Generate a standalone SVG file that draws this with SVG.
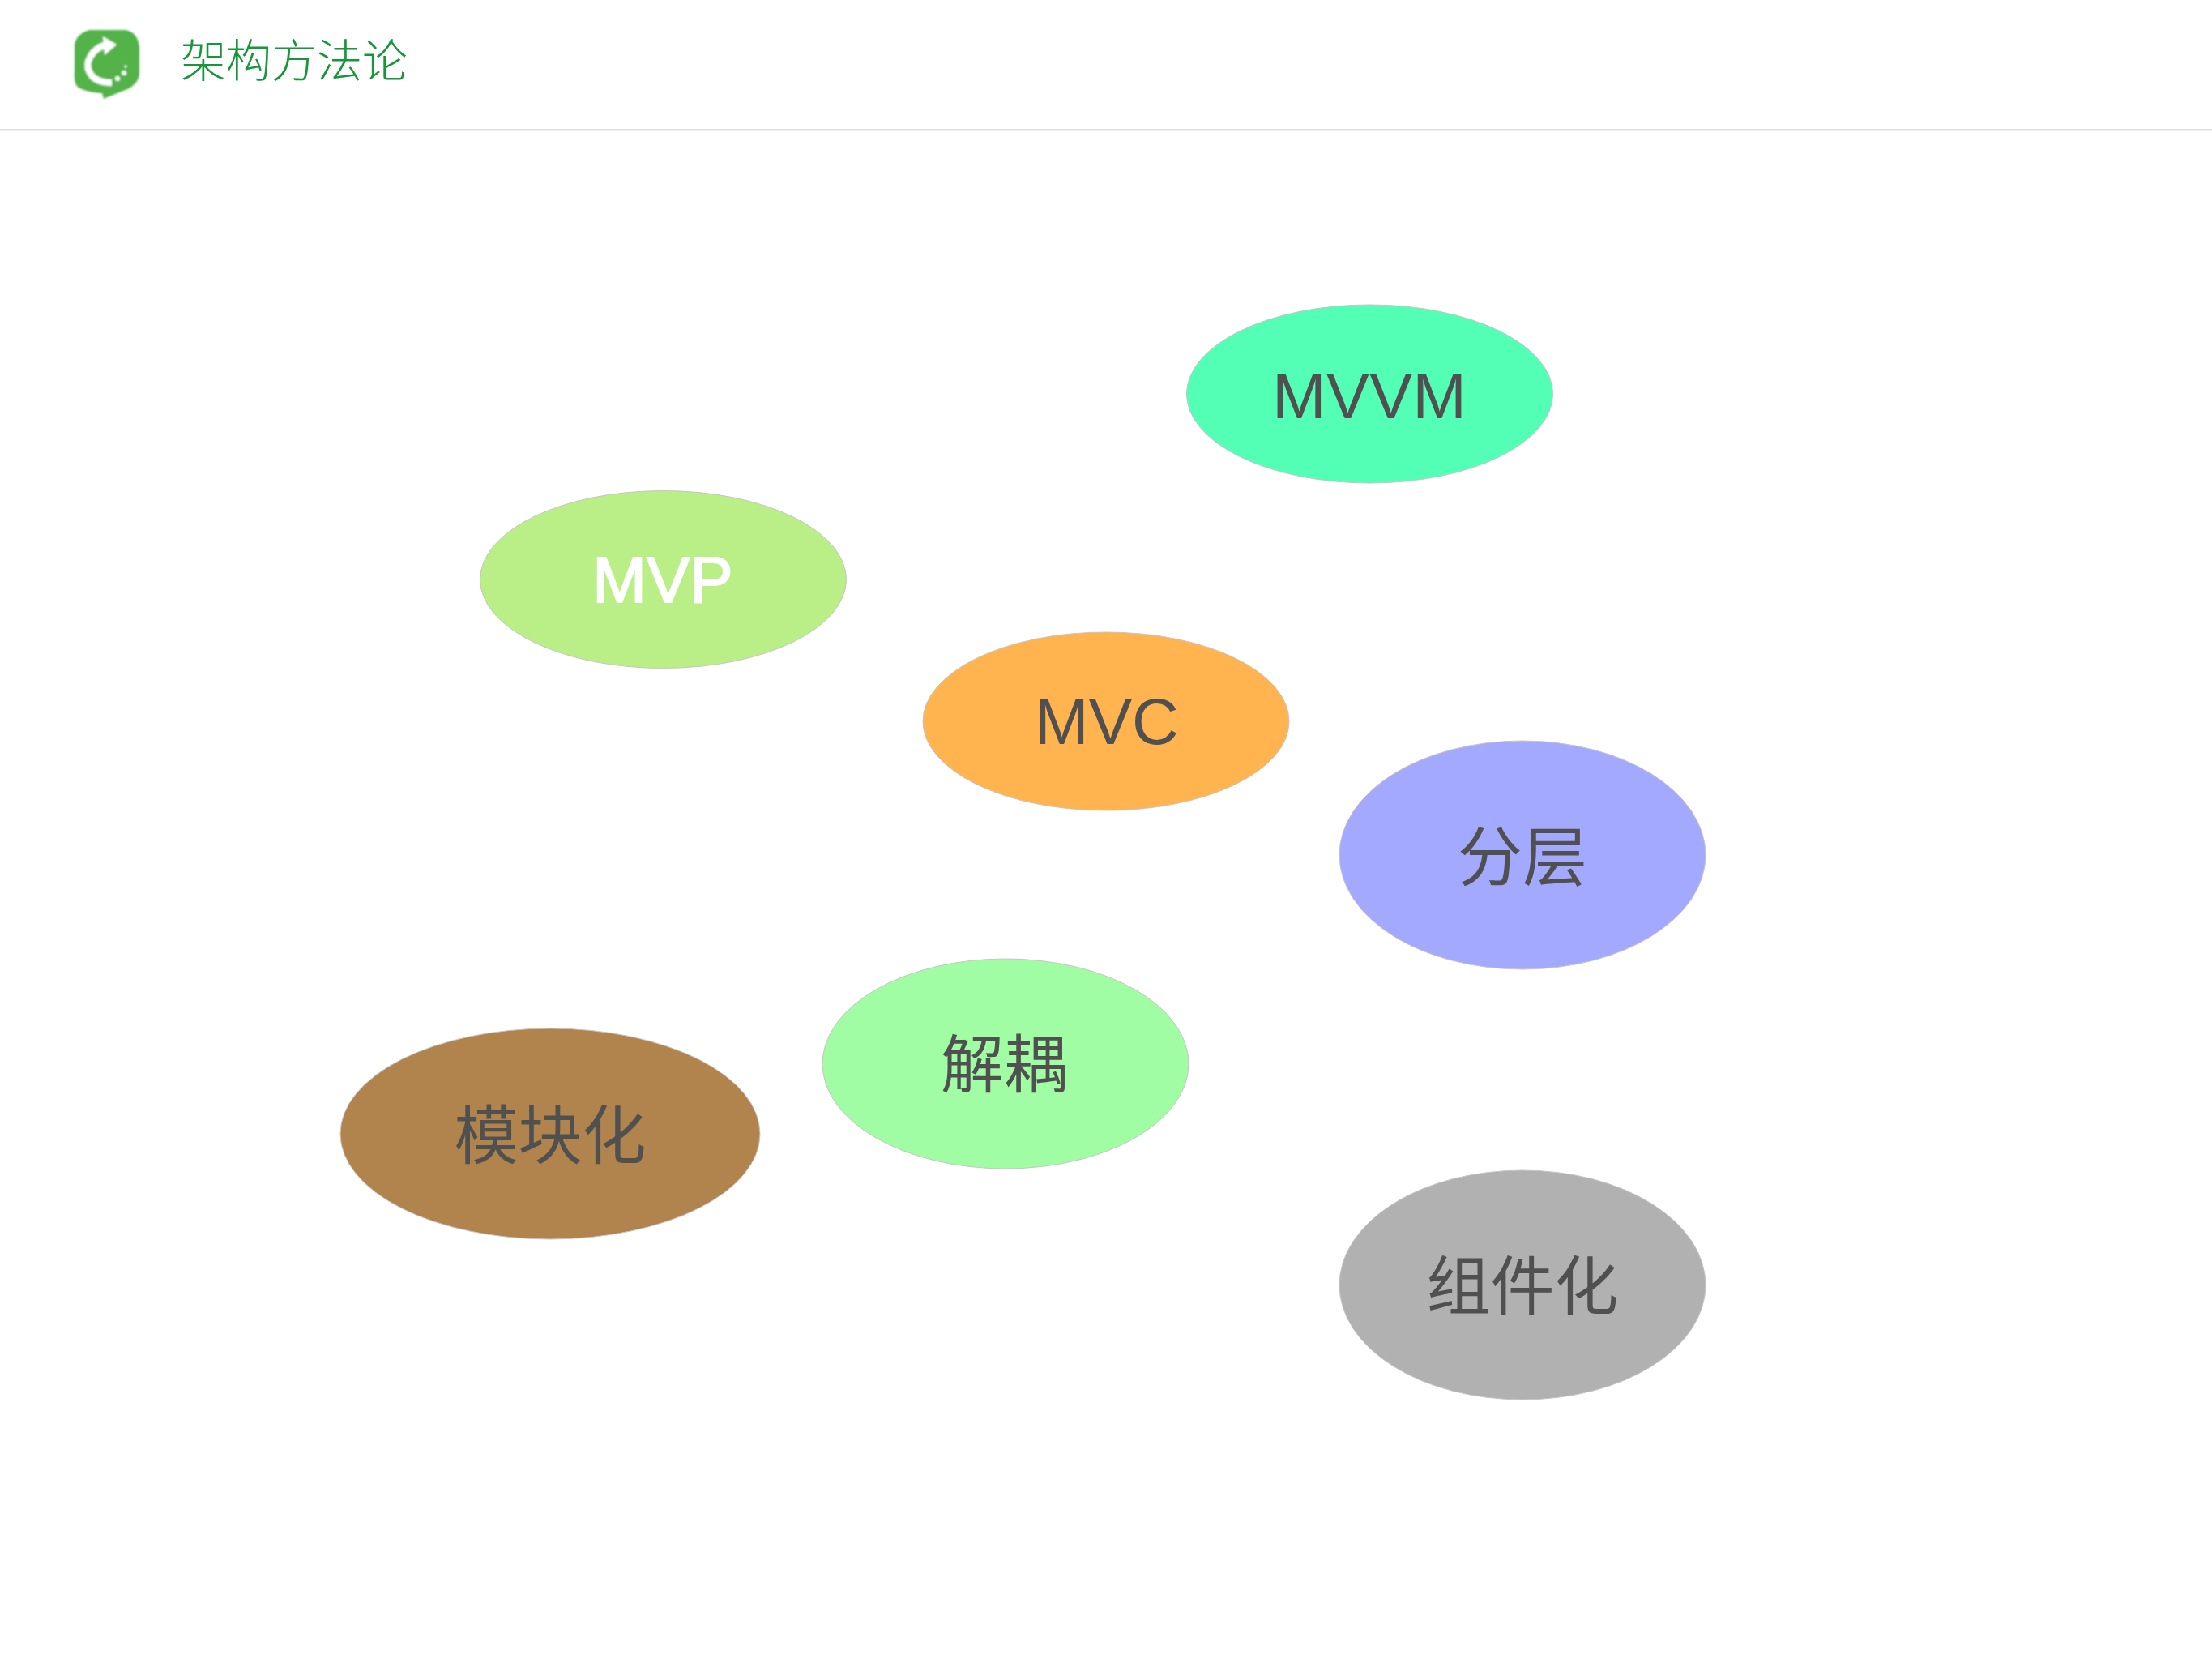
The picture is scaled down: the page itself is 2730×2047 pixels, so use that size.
<svg xmlns="http://www.w3.org/2000/svg" width="2730" height="2047" viewBox="0 0 2730 2047">
<style>
text{font-family:"Liberation Sans","Noto Sans CJK SC",sans-serif;text-anchor:middle}
.n ellipse{stroke:#c9c4c4;stroke-width:1}
.n text{font-size:80px;fill:#505050}
.t{font-family:"Noto Sans CJK SC",sans-serif;font-size:56px;font-weight:300;fill:#17963a;text-anchor:start}
</style>
<defs><filter id="soft" x="-10%" y="-10%" width="120%" height="120%"><feGaussianBlur stdDeviation="0.9"/></filter></defs>
<rect width="2730" height="2047" fill="#fff"/>
<g id="header">
<rect x="0" y="159" width="2730" height="2.5" fill="#dedede"/>
<g id="logo" filter="url(#soft)">
<path d="M110 37H155Q170 40 172 58V92Q170 106 152 112L128 122L126 115Q100 113 94 105Q91 100 92 85V55Q94 42 110 37Z" fill="#52b34a"/>
<path d="M132 55C112 60 105 78 110 88C114 98 124 102 138 102" fill="none" stroke="#fff" stroke-width="8"/>
<path d="M127 45L144 55L129 68Z" fill="#fff"/>
<circle cx="153" cy="90" r="3" fill="#fff"/><circle cx="145" cy="97" r="3" fill="#fff"/><circle cx="155" cy="82" r="1.5" fill="#fff"/>
</g>
<text class="t" x="223" y="95">架构方法论</text>
</g>
<g id="connectors"></g>
<g id="mvvm" class="n"><ellipse cx="1690.5" cy="486" rx="226" ry="110" fill="#52ffb5"/><text x="1690" y="516">MVVM</text></g>
<g id="mvp" class="n"><ellipse cx="818.5" cy="715" rx="226" ry="109.5" fill="#baee86"/><text x="818" y="743" style="fill:#fff;stroke:#fff;stroke-width:2">MVP</text></g>
<g id="mvc" class="n"><ellipse cx="1365" cy="890" rx="226" ry="110" fill="#ffb44f"/><text x="1366" y="918">MVC</text></g>
<g id="fenceng" class="n"><ellipse cx="1879" cy="1055" rx="226" ry="141" fill="#a3a9ff"/><text x="1879" y="1086">分层</text></g>
<g id="jieou" class="n"><ellipse cx="1241" cy="1312.5" rx="226" ry="129.5" fill="#a0fda3"/><text x="1239" y="1342" style="font-size:78px">解耦</text></g>
<g id="mokuaihua" class="n"><ellipse cx="679" cy="1399" rx="259" ry="130" fill="#b1844e"/><text x="679" y="1430" style="font-size:79px">模块化</text></g>
<g id="zujianhua" class="n"><ellipse cx="1879" cy="1585.5" rx="226" ry="141.5" fill="#b1b1b1"/><text x="1879" y="1616" style="font-size:79px">组件化</text></g>
</svg>
